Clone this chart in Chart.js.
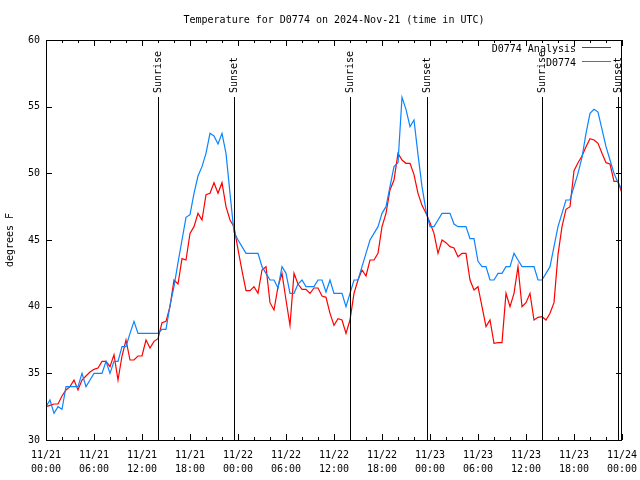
<!DOCTYPE html>
<html>
<head>
<meta charset="utf-8">
<script src="https://cdn.jsdelivr.net/npm/chart.js@4/dist/chart.umd.min.js"></script>
<style>body{margin:0;background:#fff}</style>
</head>
<body>
<canvas id="chart" width="640" height="480"></canvas>
<script>
// hours since 11/21 00:00 UTC, one reading every half hour
const hours = Array.from({length: 145}, (_, i) => i / 2);

// D0774 Analysis (red)
const analysisTemp = [
    32.5, 32.6, 32.7, 32.7, 33.3, 33.75, 34.0, 34.5, 33.75, 34.5, 34.8, 35.1,
    35.3, 35.4, 35.9, 35.9, 35.5, 36.4, 34.5, 36.3, 37.5, 36.0, 36.0, 36.3,
    36.3, 37.5, 36.9, 37.4, 37.6, 38.8, 38.9, 40.0, 42.0, 41.7, 43.6, 43.5,
    45.5, 46.0, 47.0, 46.5, 48.4, 48.5, 49.3, 48.5, 49.3, 47.5, 46.5, 46.0,
    44.3, 42.7, 41.2, 41.2, 41.5, 41.0, 42.75, 43.0, 40.3, 39.75, 41.5, 42.5,
    40.5, 38.6, 42.5, 41.7, 41.3, 41.3, 41.0, 41.4, 41.4, 40.8, 40.7, 39.5,
    38.6, 39.1, 39.0, 38.0, 39.0, 41.0, 42.0, 42.75, 42.3, 43.5, 43.5, 44.0,
    46.0, 47.0, 48.75, 49.5, 51.5, 51.0, 50.75, 50.75, 49.9, 48.5, 47.6, 47.0,
    46.3, 45.5, 44.0, 45.0, 44.8, 44.5, 44.4, 43.75, 44.0, 44.0, 42.0, 41.25,
    41.5, 40.0, 38.5, 39.0, 37.25, 37.3, 37.3, 41.0, 40.0, 41.0, 43.0, 40.0,
    40.3, 41.0, 39.0, 39.2, 39.25, 39.0, 39.5, 40.3, 43.9, 46.0, 47.3, 47.5,
    50.2, 50.8, 51.3, 52.0, 52.6, 52.5, 52.25, 51.5, 50.8, 50.7, 49.4, 49.4,
    48.5
];

// D0774 observed (blue)
const observedTemp = [
    32.5, 33.0, 32.0, 32.5, 32.3, 34.0, 34.0, 34.0, 34.0, 35.0, 34.0, 34.5,
    35.0, 35.0, 35.0, 35.9, 35.0, 35.9, 35.9, 37.0, 37.0, 38.0, 38.9, 38.0,
    38.0, 38.0, 38.0, 38.0, 38.0, 38.3, 38.3, 40.1, 41.5, 43.3, 45.0, 46.7,
    46.9, 48.5, 49.8, 50.5, 51.5, 53.0, 52.8, 52.2, 53.0, 51.5, 48.5, 45.6,
    45.0, 44.5, 44.0, 44.0, 44.0, 44.0, 43.0, 42.5, 42.0, 42.0, 41.4, 43.0,
    42.5, 41.0, 41.0, 41.7, 42.0, 41.5, 41.5, 41.5, 42.0, 42.0, 41.1, 42.0,
    41.0, 41.0, 41.0, 40.0, 41.0, 42.0, 42.0, 43.0, 44.0, 45.0, 45.5, 46.0,
    47.0, 47.5, 49.0, 50.5, 50.8, 55.7, 54.8, 53.5, 54.0, 51.4, 49.0, 47.2,
    46.0, 46.0, 46.5, 47.0, 47.0, 47.0, 46.2, 46.0, 46.0, 46.0, 45.1, 45.1,
    43.4, 43.0, 43.0, 42.0, 42.0, 42.5, 42.5, 43.0, 43.0, 44.0, 43.5, 43.0,
    43.0, 43.0, 43.0, 42.0, 42.0, 42.5, 43.0, 44.5, 46.0, 47.0, 48.0, 48.0,
    49.0, 50.0, 51.2, 53.0, 54.5, 54.8, 54.6, 53.3, 52.0, 51.0, 50.0, 49.3,
    48.8
];

// sunrise / sunset, hours since 11/21 00:00
const sunriseHours = [14.0, 38.0, 61.95];
const sunsetHours = [23.5, 47.6, 71.5];

const tickLabels = [
    ['11/21', '00:00'], ['11/21', '06:00'], ['11/21', '12:00'], ['11/21', '18:00'],
    ['11/22', '00:00'], ['11/22', '06:00'], ['11/22', '12:00'], ['11/22', '18:00'],
    ['11/23', '00:00'], ['11/23', '06:00'], ['11/23', '12:00'], ['11/23', '18:00'],
    ['11/24', '00:00']
];

const FONT = '10px "DejaVu Sans Mono", "Liberation Mono", monospace';
const RED = '#ff0000';
const BLUE = '#0a84ff';

// gnuplot style frame, inward ticks, sun lines, key, title
const gnuplotLook = {
    id: 'gnuplotLook',
    afterDatasetsDraw(chart) {
        const ctx = chart.ctx;
        const a = chart.chartArea;
        const xs = chart.scales.x, ys = chart.scales.y;
        ctx.save();
        ctx.strokeStyle = '#000';
        ctx.lineWidth = 1;

        // frame
        ctx.strokeRect(Math.round(a.left) + 0.5, Math.round(a.top) + 0.5,
            Math.round(a.right - a.left) - 1, Math.round(a.bottom - a.top));

        // x ticks (major every 6h, minor every 2h), top and bottom
        ctx.beginPath();
        for (let h = 0; h <= 72; h += 2) {
            const px = Math.round(xs.getPixelForValue(h)) + 0.5;
            const len = h % 6 === 0 ? 6 : 3;
            ctx.moveTo(px, a.bottom); ctx.lineTo(px, a.bottom - len);
            ctx.moveTo(px, a.top); ctx.lineTo(px, a.top + len);
        }
        // y ticks, left and right
        for (let t = 30; t <= 60; t += 5) {
            const py = Math.round(ys.getPixelForValue(t)) + 0.5;
            ctx.moveTo(a.left, py); ctx.lineTo(a.left + 6, py);
            ctx.moveTo(a.right, py); ctx.lineTo(a.right - 6, py);
        }
        ctx.stroke();

        // sunrise / sunset lines
        ctx.font = FONT;
        ctx.fillStyle = '#000';
        const drawEvent = (h, label) => {
            const px = Math.round(xs.getPixelForValue(h)) + 0.5;
            ctx.beginPath();
            ctx.moveTo(px, a.top + 57);
            ctx.lineTo(px, a.bottom);
            ctx.stroke();
            ctx.save();
            ctx.translate(px, a.top + 53);
            ctx.rotate(-Math.PI / 2);
            ctx.textAlign = 'left';
            ctx.textBaseline = 'middle';
            ctx.fillText(label, 0, 0);
            ctx.restore();
        };
        sunriseHours.forEach(h => drawEvent(h, 'Sunrise'));
        sunsetHours.forEach(h => drawEvent(h, 'Sunset'));

        // key
        ctx.textAlign = 'right';
        ctx.textBaseline = 'middle';
        ctx.fillText('D0774 Analysis', 576, 49);
        ctx.fillText('D0774', 576, 63);
        ctx.strokeStyle = RED;
        ctx.beginPath(); ctx.moveTo(582, 47.5); ctx.lineTo(611, 47.5); ctx.stroke();
        ctx.strokeStyle = BLUE;
        ctx.beginPath(); ctx.moveTo(582, 61.5); ctx.lineTo(611, 61.5); ctx.stroke();

        // title
        ctx.textAlign = 'center';
        ctx.fillText('Temperature for D0774 on 2024-Nov-21 (time in UTC)', (a.left + a.right) / 2, 20);

        // y title
        ctx.save();
        ctx.translate(10, (a.top + a.bottom) / 2);
        ctx.rotate(-Math.PI / 2);
        ctx.fillText('degrees F', 0, 0);
        ctx.restore();

        ctx.restore();
    }
};

new Chart(document.getElementById('chart'), {
    type: 'line',
    data: {
        labels: hours,
        datasets: [{
            label: 'D0774 Analysis',
            data: hours.map((h, i) => ({x: h, y: analysisTemp[i]})),
            borderColor: RED,
            borderWidth: 1.2,
            pointRadius: 0,
            tension: 0,
            order: 1
        }, {
            label: 'D0774',
            data: hours.map((h, i) => ({x: h, y: observedTemp[i]})),
            borderColor: BLUE,
            borderWidth: 1.2,
            pointRadius: 0,
            tension: 0,
            order: 0
        }]
    },
    options: {
        responsive: false,
        animation: false,
        layout: {padding: {left: 0, right: 18, top: 40, bottom: 0}},
        plugins: {
            legend: {display: false},
            tooltip: {enabled: false},
            title: {display: false}
        },
        scales: {
            x: {
                type: 'linear',
                min: 0,
                max: 72,
                afterFit: s => { s.height = 40; s.paddingLeft = 0; s.paddingRight = 0; },
                grid: {display: false, drawTicks: false},
                border: {display: false},
                ticks: {
                    stepSize: 6,
                    maxRotation: 0,
                    autoSkip: false,
                    padding: 8,
                    color: '#000',
                    font: {family: '"DejaVu Sans Mono", monospace', size: 10, lineHeight: 1.4},
                    callback: v => tickLabels[v / 6]
                }
            },
            y: {
                min: 30,
                max: 60,
                afterFit: s => { s.width = 46; s.paddingTop = 0; s.paddingBottom = 0; },
                grid: {display: false, drawTicks: false},
                border: {display: false},
                ticks: {
                    stepSize: 5,
                    padding: 6,
                    color: '#000',
                    font: {family: '"DejaVu Sans Mono", monospace', size: 10}
                }
            }
        }
    },
    plugins: [gnuplotLook]
});
</script>
</body>
</html>
